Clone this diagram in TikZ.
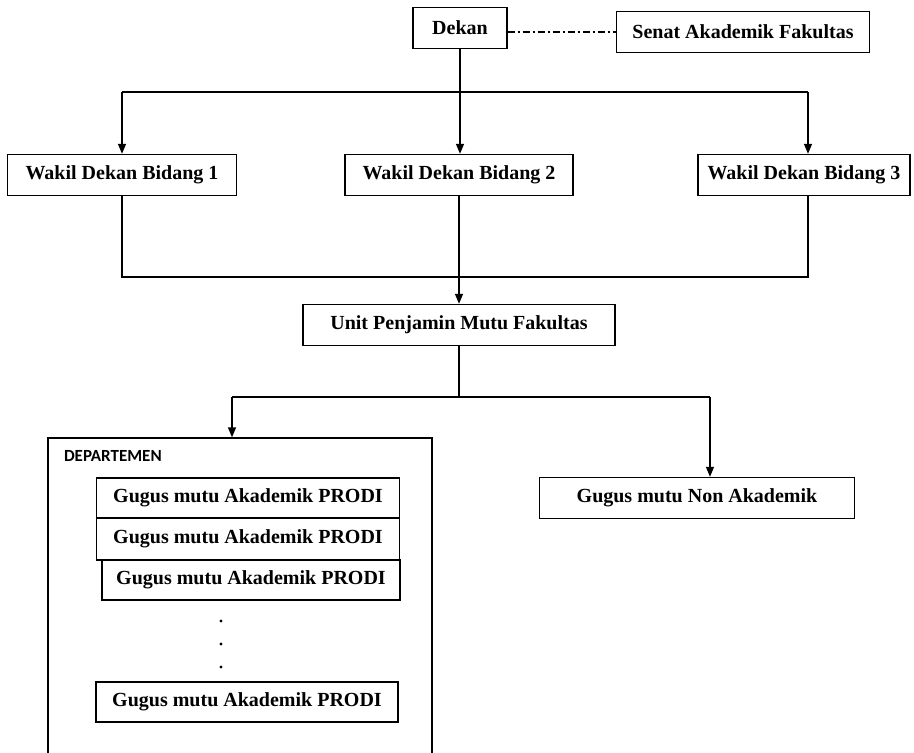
\documentclass[tikz,border=0pt]{standalone}
\usepackage{fontspec}
\setmainfont{Liberation Serif}
\newfontfamily\deptfont{Carlito}
\usepackage{tikz}
\usetikzlibrary{arrows.meta,calc}

\tikzset{
  unitbox/.style={draw,line width=1.4pt,minimum height=41pt,inner sep=2pt,
    font=\bfseries\fontsize{20}{24}\selectfont},
  arr/.style={-{Triangle[length=10pt,width=8pt]}},
}

\begin{document}
\begin{tikzpicture}[x=1pt,y=-1pt,line width=1.4pt]
  \useasboundingbox (0,0) rectangle (914,753);

  \node[unitbox,minimum width=94pt] (dekan) at (460,28) {Dekan};
  \node[unitbox,minimum width=253pt] (senat) at (743,32) {Senat Akademik Fakultas};
  \node[unitbox,minimum width=229pt] (w1) at (122,175) {Wakil Dekan Bidang 1};
  \node[unitbox,minimum width=228pt] (w2) at (459,175) {Wakil Dekan Bidang 2};
  \node[unitbox,minimum width=212pt] (w3) at (804,175) {Wakil Dekan Bidang 3};
  \node[unitbox,minimum width=312pt] (upm) at (459,325) {Unit Penjamin Mutu Fakultas};
  \node[unitbox,minimum width=315pt] (nonak) at (697,498) {Gugus mutu Non Akademik};

  % departemen
  \node[draw,minimum width=384pt,minimum height=330pt,inner sep=0pt] (dept) at (240,603) {};
  \node[anchor=west,font=\deptfont\bfseries\fontsize{17}{20}\selectfont] (deptlbl) at (60,456) {DEPARTEMEN};
  \node[unitbox,minimum width=303pt,minimum height=40pt] (p1) at (248,498) {Gugus mutu Akademik PRODI};
  \node[unitbox,minimum width=303pt,minimum height=42pt] (p2) at (248,539) {Gugus mutu Akademik PRODI};
  \node[unitbox,minimum width=298pt,minimum height=40pt] (p3) at (251,580) {Gugus mutu Akademik PRODI};
  \node[unitbox,minimum width=302pt,minimum height=40pt] (p4) at (247,702) {Gugus mutu Akademik PRODI};
  \foreach \y in {621,644,667}
    \fill (221,\y) circle (1.6pt);

  \coordinate (t0) at (dekan.south |- 0,92);
  \coordinate (t1) at (122,92);
  \coordinate (t3) at (808,92);
  \coordinate (m1) at (122,277);
  \coordinate (m3) at (808,277);
  \coordinate (b0) at (upm.south |- 0,397);
  \coordinate (b1) at (232,397);
  \coordinate (b2) at (710,397);

  \draw[dash pattern=on 7pt off 3pt on 2pt off 3pt] (dekan.east |- senat.west) -- (senat.west);
  \draw (dekan.south) -- (t0);
  \draw (t1) -- (t3);
  \draw[arr] (t1) -- (t1 |- w1.north);
  \draw[arr] (t0) -- (t0 |- w2.north);
  \draw[arr] (t3) -- (t3 |- w3.north);
  \draw (w1.south) -- (m1) -- (m3) -- (m3 |- w3.south);
  \draw[arr] (w2.south) -- (w2.south |- upm.north);
  \draw (upm.south) -- (b0);
  \draw (b1) -- (b2);
  \draw[arr] (b1) -- (b1 |- dept.north);
  \draw[arr] (b2) -- (b2 |- nonak.north);
\end{tikzpicture}
\end{document}
